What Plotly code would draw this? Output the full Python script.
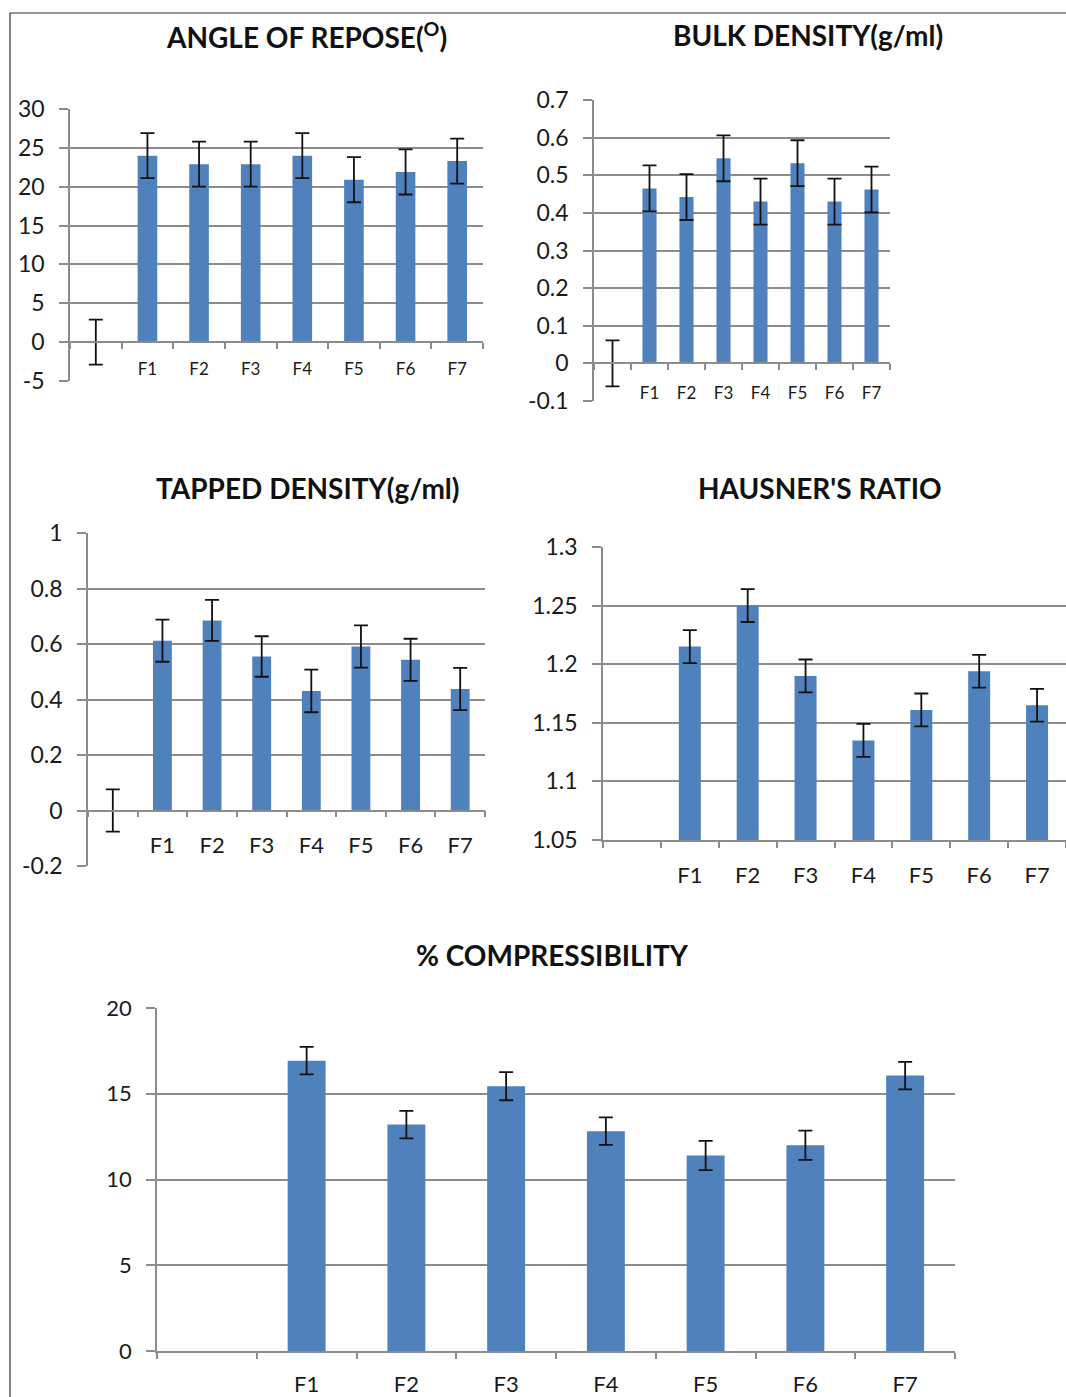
import plotly.graph_objects as go

W, H = 1066, 1397

categories = [" ", "F1", "F2", "F3", "F4", "F5", "F6", "F7"]

# Angle of repose (degrees)
repose_vals = [0, 24.0, 22.9, 22.9, 24.0, 20.9, 21.9, 23.3]
repose_err = [2.9, 2.9, 2.9, 2.9, 2.9, 2.9, 2.9, 2.9]
repose_ticks = [-5, 0, 5, 10, 15, 20, 25, 30]
repose_ticktext = ["-5", "0", "5", "10", "15", "20", "25", "30"]

# Bulk density (g/ml)
bulk_vals = [0, 0.465, 0.442, 0.545, 0.430, 0.532, 0.430, 0.462]
bulk_err = [0.061, 0.061, 0.061, 0.061, 0.061, 0.061, 0.061, 0.061]
bulk_ticks = [-0.1, 0, 0.1, 0.2, 0.3, 0.4, 0.5, 0.6, 0.7]
bulk_ticktext = ["-0.1", "0", "0.1", "0.2", "0.3", "0.4", "0.5", "0.6", "0.7"]

# Tapped density (g/ml)
tapped_vals = [0, 0.612, 0.685, 0.555, 0.431, 0.591, 0.543, 0.438]
tapped_err = [0.076, 0.076, 0.074, 0.073, 0.077, 0.076, 0.076, 0.076]
tapped_ticks = [-0.2, 0, 0.2, 0.4, 0.6, 0.8, 1.0]
tapped_ticktext = ["-0.2", "0", "0.2", "0.4", "0.6", "0.8", "1"]

# Hausner's ratio
hausner_vals = [None, 1.215, 1.250, 1.190, 1.135, 1.161, 1.194, 1.165]
hausner_err = [0, 0.014, 0.014, 0.014, 0.014, 0.014, 0.014, 0.014]
hausner_ticks = [1.05, 1.1, 1.15, 1.2, 1.25, 1.3]
hausner_ticktext = ["1.05", "1.1", "1.15", "1.2", "1.25", "1.3"]

# % Compressibility
compress_vals = [None, 16.93, 13.2, 15.44, 12.82, 11.4, 12.0, 16.06]
compress_err = [0, 0.8, 0.8, 0.82, 0.8, 0.85, 0.85, 0.8]
compress_ticks = [0, 5, 10, 15, 20]
compress_ticktext = ["0", "5", "10", "15", "20"]

titles = ["ANGLE OF REPOSE(<sup>O</sup>)", "BULK DENSITY(g/ml)", "TAPPED DENSITY(g/ml)",
          "HAUSNER'S RATIO", "% COMPRESSIBILITY"]

BAR = "#4F81BD"
GRID = "#8C8C8C"
TXT = "#1a1a1a"
FONT = "Lato"


def px_x(p):
    return p / W


def px_y(p):
    return 1 - p / H


# panel specs: (values, errs, ticks, ticktext, yrange, xdomain px, ydomain px (top,bottom), xfont, yfont, x label standoff)
panels = [
    (repose_vals, repose_err, repose_ticks, repose_ticktext, [-5, 30], (70, 483), (109, 381), 17, 23, 12),
    (bulk_vals, bulk_err, bulk_ticks, bulk_ticktext, [-0.1, 0.7], (594, 890), (100, 401), 17, 23, 14),
    (tapped_vals, tapped_err, tapped_ticks, tapped_ticktext, [-0.2, 1.0], (88, 485), (533, 866), 22, 23, 15),
    (hausner_vals, hausner_err, hausner_ticks, hausner_ticktext, [1.05, 1.3], (603, 1066), (547, 840), 22, 23, 15),
    (compress_vals, compress_err, compress_ticks, compress_ticktext, [0, 20], (157, 955), (1008, 1351), 22, 22, 13),
]

fig = go.Figure()
layout_axes = {}
for i, (vals, errs, tv, tt, yr, xd, yd, xfs, yfs, xstand) in enumerate(panels, start=1):
    sfx = "" if i == 1 else str(i)
    fig.add_trace(go.Bar(
        x=categories, y=vals,
        xaxis="x" + sfx, yaxis="y" + sfx,
        marker=dict(color=BAR, line=dict(width=0)),
        error_y=dict(type="data", array=errs, visible=True, color="#111111", thickness=1.8, width=7),
        showlegend=False,
    ))
    y0p, y1p = px_y(yd[1]), px_y(yd[0])
    if yr[0] < 0:
        pos = y0p + (0 - yr[0]) / (yr[1] - yr[0]) * (y1p - y0p)
        xanchor = dict(anchor="free", position=pos)
    else:
        xanchor = dict(anchor="y" + sfx)
    layout_axes["xaxis" + sfx] = dict(
        domain=[px_x(xd[0]), min(px_x(xd[1]), 1.0)],
        type="category", categoryorder="array", categoryarray=categories,
        showline=True, linecolor=GRID, linewidth=1.5,
        ticks="outside", tickson="boundaries", ticklen=6, tickcolor=GRID, tickwidth=1.5,
        showgrid=False, zeroline=False, automargin=False,
        tickfont=dict(family=FONT, size=xfs, color=TXT),
        ticklabelstandoff=xstand,
        fixedrange=True,
        **xanchor,
    )
    layout_axes["yaxis" + sfx] = dict(
        domain=[y0p, y1p], anchor="x" + sfx, range=yr,
        tickvals=tv, ticktext=tt,
        showgrid=True, gridcolor=GRID, gridwidth=1.5,
        showline=True, linecolor=GRID, linewidth=1.5,
        ticks="outside", ticklen=9, tickcolor=GRID, tickwidth=1.5,
        zeroline=False, automargin=False,
        tickfont=dict(family=FONT, size=yfs, color=TXT),
        ticklabelstandoff=10,
        fixedrange=True,
    )

fig.update_layout(
    width=W, height=H,
    margin=dict(l=0, r=0, t=0, b=0, autoexpand=False),
    paper_bgcolor="white", plot_bgcolor="white",
    bargap=0.62,
    **layout_axes,
)

title_pos = [(306, 35), (808, 35), (308, 488), (820, 488), (552, 955)]
for t, (cx, cy) in zip(titles, title_pos):
    fig.add_annotation(
        text="<b>" + t + "</b>", x=px_x(cx), y=px_y(cy), xref="paper", yref="paper",
        showarrow=False, xanchor="center", yanchor="middle",
        font=dict(family=FONT, size=28, color="#111111"),
    )

# outer frame of the figure panel
fig.add_shape(type="rect", xref="paper", yref="paper",
              x0=px_x(10), x1=1.02, y0=-0.02, y1=px_y(13),
              line=dict(color="#333333", width=1.2), fillcolor="rgba(0,0,0,0)", layer="below")

page_js = (
    "document.documentElement.style.margin='0';"
    "document.body.style.margin='0';"
    "document.body.style.overflow='hidden';"
    "var d=document.getElementById('{plot_id}');"
    "d.style.position='fixed';d.style.top='0px';d.style.left='0px';"
)

fig.write_html("out.html", config={"displayModeBar": False}, post_script=page_js)
